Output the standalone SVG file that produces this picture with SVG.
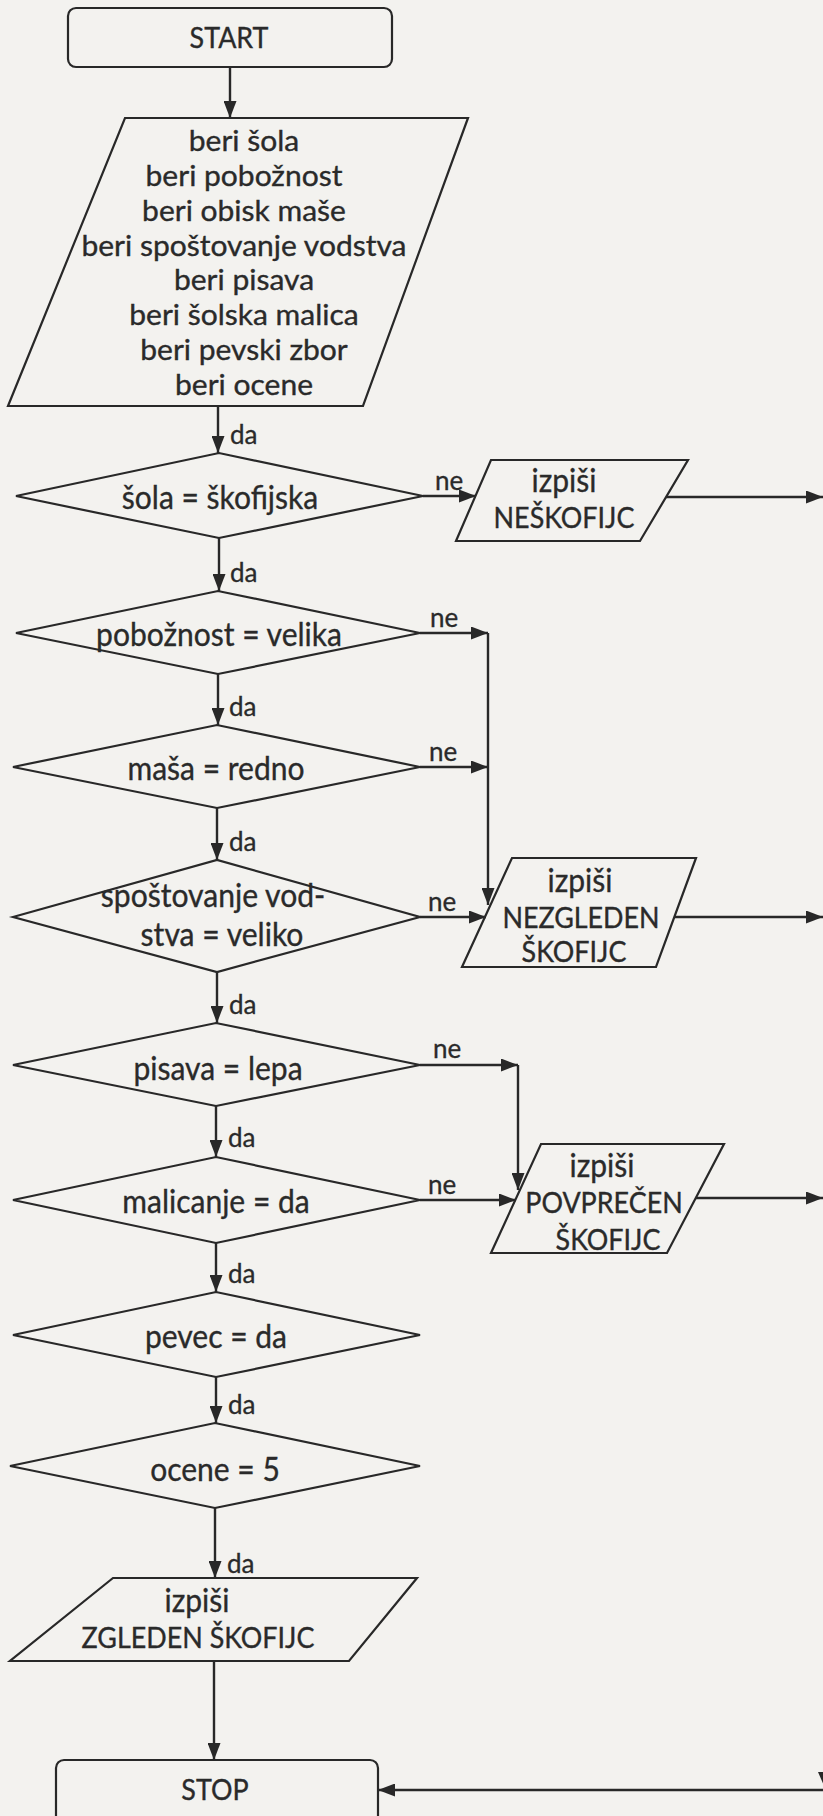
<svg xmlns="http://www.w3.org/2000/svg" width="823" height="1816" viewBox="0 0 823 1816">
<defs>
<style>
.shape{fill:none;stroke:#282828;stroke-width:2.2;stroke-linejoin:miter}
.conn{fill:none;stroke:#282828;stroke-width:2.4}
.t{font-family:Lato,"Liberation Sans",sans-serif;font-size:33px;fill:#2a2a2a;stroke:#2a2a2a;stroke-width:0.35;text-anchor:middle}
.ti{font-family:Lato,"Liberation Sans",sans-serif;font-size:28.8px;fill:#2a2a2a;stroke:#2a2a2a;stroke-width:0.35;text-anchor:middle}
.u{font-family:Lato,"Liberation Sans",sans-serif;font-size:28px;fill:#2a2a2a;stroke:#2a2a2a;stroke-width:0.35;text-anchor:middle}
.lbl{font-family:Lato,"Liberation Sans",sans-serif;font-size:26px;fill:#2a2a2a;stroke:#2a2a2a;stroke-width:0.3;text-anchor:start}
</style>
<marker id="ah" markerUnits="userSpaceOnUse" markerWidth="17" markerHeight="13" refX="17" refY="6.5" orient="auto">
<path d="M0,0 L17,6.5 L0,13 Z" fill="#282828"/>
</marker>
</defs>
<rect x="0" y="0" width="823" height="1816" fill="#f3f2ef"/>

<g id="connectors">
<path class="conn" d="M230,67 V118" marker-end="url(#ah)"/>
<path class="conn" d="M218,406 V453" marker-end="url(#ah)"/>
<path class="conn" d="M219,538 V591" marker-end="url(#ah)"/>
<path class="conn" d="M218,674 V725" marker-end="url(#ah)"/>
<path class="conn" d="M217,808 V860" marker-end="url(#ah)"/>
<path class="conn" d="M217,972 V1023" marker-end="url(#ah)"/>
<path class="conn" d="M216,1106 V1157" marker-end="url(#ah)"/>
<path class="conn" d="M216,1243 V1292" marker-end="url(#ah)"/>
<path class="conn" d="M216,1377 V1423" marker-end="url(#ah)"/>
<path class="conn" d="M215,1508 V1578" marker-end="url(#ah)"/>
<path class="conn" d="M214,1661 V1760" marker-end="url(#ah)"/>
<path class="conn" d="M423,496 H476" marker-end="url(#ah)"/>
<path class="conn" d="M666,497 H823" marker-end="url(#ah)"/>
<path class="conn" d="M420,633 H488" marker-end="url(#ah)"/>
<path class="conn" d="M420,767 H488" marker-end="url(#ah)"/>
<path class="conn" d="M488,633 V905" marker-end="url(#ah)"/>
<path class="conn" d="M420,917 H486" marker-end="url(#ah)"/>
<path class="conn" d="M674,917 H823" marker-end="url(#ah)"/>
<path class="conn" d="M420,1065 H518" marker-end="url(#ah)"/>
<path class="conn" d="M518,1065 V1190" marker-end="url(#ah)"/>
<path class="conn" d="M420,1200 H516" marker-end="url(#ah)"/>
<path class="conn" d="M696,1198 H823" marker-end="url(#ah)"/>
<path class="conn" d="M823,1790 H378" marker-end="url(#ah)"/>
<path d="M818,1772 L832,1772 L825,1788 Z" fill="#282828"/>
<text class="lbl" x="230" y="444">da</text>
<text class="lbl" x="230" y="582">da</text>
<text class="lbl" x="229" y="716">da</text>
<text class="lbl" x="229" y="851">da</text>
<text class="lbl" x="229" y="1014">da</text>
<text class="lbl" x="228" y="1147">da</text>
<text class="lbl" x="228" y="1283">da</text>
<text class="lbl" x="228" y="1414">da</text>
<text class="lbl" x="227" y="1573">da</text>
<text class="lbl" x="435" y="490">ne</text>
<text class="lbl" x="430" y="627">ne</text>
<text class="lbl" x="429" y="761">ne</text>
<text class="lbl" x="428" y="911">ne</text>
<text class="lbl" x="433" y="1058">ne</text>
<text class="lbl" x="428" y="1194">ne</text>
</g>

<g id="start">
<rect class="shape" x="68" y="8" width="324" height="59" rx="8"/>
<text class="u" transform="scale(0.96 1)" x="238.54" y="48">START</text>
</g>

<g id="input">
<polygon class="shape" points="125,118 468,118 363,406 8,406"/>
<g transform="scale(1.042 1)">
<text class="ti" x="234.17" y="151">beri šola</text>
<text class="ti" x="234.17" y="185.9">beri pobožnost</text>
<text class="ti" x="234.17" y="220.7">beri obisk maše</text>
<text class="ti" x="234.17" y="255.6">beri spoštovanje vodstva</text>
<text class="ti" x="234.17" y="290.4">beri pisava</text>
<text class="ti" x="234.17" y="325.3">beri šolska malica</text>
<text class="ti" x="234.17" y="360.1">beri pevski zbor</text>
<text class="ti" x="234.17" y="395">beri ocene</text>
</g>
</g>

<g id="d-sola">
<polygon class="shape" points="16,496 219,453 423,496 219,538"/>
<text class="t" transform="scale(0.91 1)" x="241.76" y="509">šola = škofijska</text>
</g>

<g id="out-neskofijc">
<polygon class="shape" points="491,460 688,460 640,541 456,541"/>
<text class="t" transform="scale(0.91 1)" x="619.78" y="492">izpiši</text>
<text class="u" transform="scale(0.96 1)" x="587.5" y="528">NEŠKOFIJC</text>
</g>

<g id="d-poboznost">
<polygon class="shape" points="16,633 218,591 420,633 218,674"/>
<text class="t" transform="scale(0.91 1)" x="240.66" y="646">pobožnost = velika</text>
</g>

<g id="d-masa">
<polygon class="shape" points="13,767 217,725 420,767 217,808"/>
<text class="t" transform="scale(0.91 1)" x="237.36" y="780">maša = redno</text>
</g>

<g id="d-spostovanje">
<polygon class="shape" points="13,917 217,860 420,917 217,972"/>
<g transform="scale(0.94 1)">
<text class="t" x="226.6" y="907" style="font-size:32px">spoštovanje vod-</text>
<text class="t" x="236.17" y="946" style="font-size:32px">stva = veliko</text>
</g>
</g>

<g id="out-nezgleden">
<polygon class="shape" points="512,858 696,858 656,967 462,967"/>
<text class="t" transform="scale(0.91 1)" x="637.36" y="892">izpiši</text>
<text class="u" transform="scale(0.96 1)" x="605.21" y="928">NEZGLEDEN</text>
<text class="u" transform="scale(0.96 1)" x="597.92" y="962">ŠKOFIJC</text>
</g>

<g id="d-pisava">
<polygon class="shape" points="13,1065 216,1023 420,1065 216,1106"/>
<text class="t" transform="scale(0.91 1)" x="239.56" y="1080">pisava = lepa</text>
</g>

<g id="d-malicanje">
<polygon class="shape" points="13,1200 216,1157 420,1200 216,1243"/>
<text class="t" transform="scale(0.91 1)" x="237.36" y="1213">malicanje = da</text>
</g>

<g id="out-povprecen">
<polygon class="shape" points="541,1144 724,1144 667,1253 491,1253"/>
<text class="t" transform="scale(0.91 1)" x="661.54" y="1177">izpiši</text>
<text class="u" transform="scale(0.96 1)" x="629.17" y="1213">POVPREČEN</text>
<text class="u" transform="scale(0.96 1)" x="633.33" y="1250">ŠKOFIJC</text>
</g>

<g id="d-pevec">
<polygon class="shape" points="13,1335 216,1292 420,1335 216,1377"/>
<text class="t" transform="scale(0.91 1)" x="237.36" y="1348">pevec = da</text>
</g>

<g id="d-ocene">
<polygon class="shape" points="10,1466 215,1423 420,1466 215,1508"/>
<text class="t" transform="scale(0.91 1)" x="236.26" y="1481">ocene = 5</text>
</g>

<g id="out-zgleden">
<polygon class="shape" points="113,1578 417,1578 349,1661 10,1661"/>
<text class="t" transform="scale(0.91 1)" x="216.48" y="1612">izpiši</text>
<text class="u" transform="scale(0.96 1)" x="206.25" y="1648">ZGLEDEN ŠKOFIJC</text>
</g>

<g id="stop">
<rect class="shape" x="56" y="1760" width="322" height="80" rx="8"/>
<text class="u" transform="scale(0.96 1)" x="223.96" y="1800">STOP</text>
</g>
</svg>
